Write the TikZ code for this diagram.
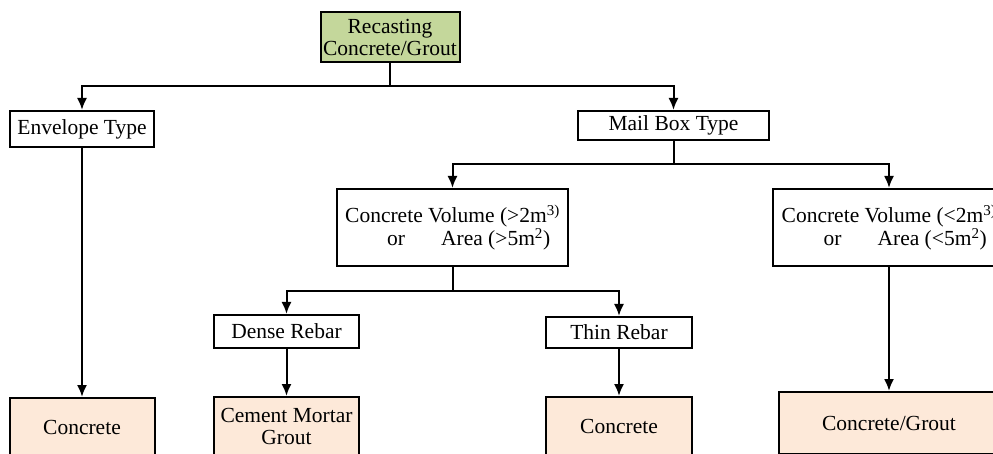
\documentclass[tikz,border=0pt]{standalone}
\usepackage{fontspec}
\setmainfont{Liberation Serif}
\usepackage{tikz}
\usepackage{xcolor}
\usetikzlibrary{arrows.meta, calc, positioning}
\definecolor{lgreen}{HTML}{C4D79B}
\definecolor{lpeach}{HTML}{FDE9D9}
\tikzset{
  %box node style
  blk/.style={
    draw
    , fill=white
    , line width=2pt
    , anchor=center
    , text centered
    , inner sep=2pt
    , font=\fontsize{21.5}{22}\selectfont
  },
  link/.style={line width=2pt},
  arr/.style={link, -{Latex[length=12pt,width=10pt]}},
}

\begin{document}
\begin{tikzpicture}[x=1pt,y=-1pt]
  \tikzstyle{root}=[blk, fill=lgreen, align=center]
  \tikzstyle{leaf}=[blk, fill=lpeach, align=center]
  \tikzstyle{cond}=[blk, align=left]
  \useasboundingbox (0,0) rectangle (993,454);
  \clip (0,0) rectangle (993,454);

  \node [root, minimum width=139pt, minimum height=50pt] (rec) at (390,37)
    {Recasting\\Concrete/Grout};

  \node [blk, minimum width=144pt, minimum height=36pt] (env) at (82,129) {Envelope Type};
  \node [blk, minimum width=191pt, minimum height=29pt] (mail) at (673.5,125.5) {Mail Box Type};

  \node [cond, minimum width=231pt, minimum height=77pt] (big) at (452.5,227.5)
    {Concrete Volume (>2m\textsuperscript{3)}\\\hspace*{42pt}or\hspace{36pt}Area (>5m\textsuperscript{2})};
  \node [cond, minimum width=232pt, minimum height=77pt] (small) at (889,227.5)
    {Concrete Volume (<2m\textsuperscript{3)}\\\hspace*{42pt}or\hspace{36pt}Area (<5m\textsuperscript{2})};

  \node [blk, minimum width=145pt, minimum height=33pt] (dense) at (286.5,331.5) {Dense Rebar};
  \node [blk, minimum width=146pt, minimum height=31pt] (thin) at (619,332.5) {Thin Rebar};

  \node [leaf, minimum width=145pt, minimum height=58pt] (conc1) at (82,427) {Concrete};
  \node [leaf, minimum width=145pt, minimum height=58pt] (cmg) at (286.5,426) {Cement Mortar\\Grout};
  \node [leaf, minimum width=146pt, minimum height=58pt] (conc2) at (619,426) {Concrete};
  \node [leaf, minimum width=220pt, minimum height=62pt] (cg) at (889,423) {Concrete/Grout};

  % branch points
  \coordinate (j1) at (390,86);
  \coordinate (j2) at (673.5,164);
  \coordinate (j3) at (452.5,291);

  \draw [link] (rec.south) -- (j1);
  \draw [arr] (j1) -| (env.north);
  \draw [arr] (j1) -| (mail.north);

  \draw [link] (mail.south) -- (j2);
  \draw [arr] (j2) -| (big.north);
  \draw [arr] (j2) -| (small.north);

  \draw [link] (big.south) -- (j3);
  \draw [arr] (j3) -| (dense.north);
  \draw [arr] (j3) -| (thin.north);

  \draw [arr] (env) -- (conc1);
  \draw [arr] (dense) -- (cmg);
  \draw [arr] (thin) -- (conc2);
  \draw [arr] (small) -- (cg);

\end{tikzpicture}
\end{document}
